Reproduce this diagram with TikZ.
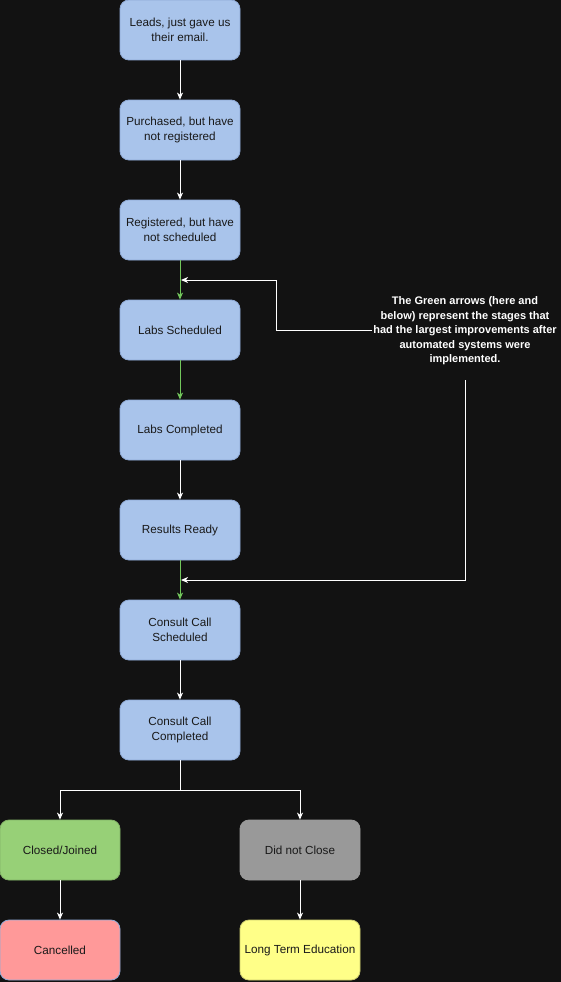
\documentclass[tikz,border=0pt]{standalone}
\usepackage{fontspec}
\setmainfont{Liberation Sans}
\usetikzlibrary{arrows.meta}
\definecolor{bg}{HTML}{121212}
\definecolor{blu}{HTML}{A9C4EB}
\definecolor{blub}{HTML}{8FAAD6}
\definecolor{grn}{HTML}{97D077}
\definecolor{grnb}{HTML}{82B366}
\definecolor{gry}{HTML}{999999}
\definecolor{pnk}{HTML}{FF9999}
\definecolor{ylw}{HTML}{FFFF88}
\definecolor{garrow}{HTML}{72C75C}
\tikzset{
  box/.style={draw=blub, line width=0.8pt, fill=blu, rounded corners=9pt, minimum width=120pt, minimum height=60pt, align=center, font=\fontsize{11.7}{15}\selectfont, text=black!90, inner sep=0pt},
  conn/.style={draw=white, line width=1pt, -{Stealth[length=7pt,width=6pt,inset=2pt]}},
  gconn/.style={draw=garrow, line width=1pt, -{Stealth[length=7pt,width=6pt,inset=2pt]}},
}
\begin{document}
\begin{tikzpicture}[x=1pt,y=-1pt]
\useasboundingbox (0,0) rectangle (561,982);
\fill[bg] (0,0) rectangle (561,982);
\node[box] (n1) at (180,30) {Leads, just gave us\\ their email.};
\node[box] (n2) at (180,130) {Purchased, but have\\ not registered};
\node[box] (n3) at (180,230) {Registered, but have\\ not scheduled};
\node[box] (n4) at (180,330) {Labs Scheduled};
\node[box] (n5) at (180,430) {Labs Completed};
\node[box] (n6) at (180,530) {Results Ready};
\node[box] (n7) at (180,630) {Consult Call\\ Scheduled};
\node[box] (n8) at (180,730) {Consult Call\\ Completed};
\node[box, fill=grn, draw=grnb] (c1) at (60,850) {Closed/Joined};
\node[box, fill=gry, draw=gry] (c2) at (300,850) {Did not Close};
\node[box, fill=pnk, draw=blub] (c3) at (60,950) {Cancelled};
\node[box, fill=ylw, draw=ylw!80!black] (c4) at (300,950) {Long Term Education};
\node[text=white, font=\bfseries\fontsize{11}{14.5}\selectfont, align=center, inner sep=0pt] (note) at (465,331) {The Green arrows (here and\\ below) represent the stages that\\ had the largest improvements after\\ automated systems were\\ implemented.};
\coordinate (m1) at (180,280);
\coordinate (m2) at (180,580);
\coordinate (nl) at (372,330);
\coordinate (nb) at (465,380);
\draw[conn] (n1) -- (n2);
\draw[conn] (n2) -- (n3);
\draw[gconn] (n3) -- (n4);
\draw[gconn] (n4) -- (n5);
\draw[conn] (n5) -- (n6);
\draw[gconn] (n6) -- (n7);
\draw[conn] (n7) -- (n8);
\draw[conn] (n8.south) -- ++(0,30) -| (c1.north);
\draw[conn] (n8.south) -- ++(0,30) -| (c2.north);
\draw[conn] (c1) -- (c3);
\draw[conn] (c2) -- (c4);
\draw[conn] (nl) -- (276,330) -- (276,280) -- ([xshift=1pt]m1);
\draw[conn] (nb) -- (465,580) -- ([xshift=1pt]m2);
\end{tikzpicture}
\end{document}
